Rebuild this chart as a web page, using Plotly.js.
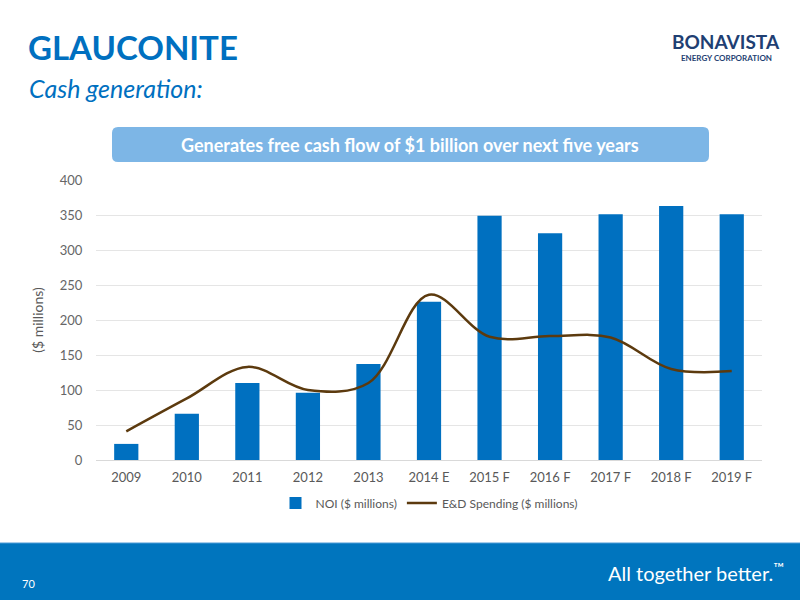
<!DOCTYPE html>
<html>
<head>
<meta charset="utf-8">
<script src="https://cdn.plot.ly/plotly-3.0.1.min.js"></script>
<style>html,body{margin:0;padding:0;background:#fff;}#chart{width:800px;height:600px;}</style>
</head>
<body>
<div id="chart"></div>
<script>
const categories = ["2009","2010","2011","2012","2013","2014 E","2015 F","2016 F","2017 F","2018 F","2019 F"];
const noi = [23, 66, 110, 96, 137, 226, 349, 324, 351, 363, 351];
const edSpending = [41, 88, 133, 100, 110, 236, 176, 177, 175, 130, 127];
const yTicks = [0, 50, 100, 150, 200, 250, 300, 350, 400];

const W = 800, H = 600;
const M = {l: 96, r: 38, t: 180, b: 140};
const PW = W - M.l - M.r, PH = H - M.t - M.b;
const px = x => (x - M.l) / PW;
const py = y => (H - M.b - y) / PH;

function roundRect(x0, y0, x1, y1, r) {
  const X0 = px(x0), X1 = px(x1), Y0 = py(y0), Y1 = py(y1);
  const rx = r / PW, ry = r / PH;
  return `M ${X0 + rx} ${Y0} L ${X1 - rx} ${Y0} Q ${X1} ${Y0} ${X1} ${Y0 - ry} L ${X1} ${Y1 + ry} Q ${X1} ${Y1} ${X1 - rx} ${Y1} L ${X0 + rx} ${Y1} Q ${X0} ${Y1} ${X0} ${Y1 + ry} L ${X0} ${Y0 - ry} Q ${X0} ${Y0} ${X0 + rx} ${Y0} Z`;
}

const traces = [
  {type: 'bar', name: 'NOI ($ millions)', x: categories, y: noi, marker: {color: '#0070C0'}, width: 0.4},
  {type: 'scatter', mode: 'lines', name: 'E&D Spending ($ millions)', x: categories, y: edSpending,
   line: {color: '#5C3A0E', width: 2.5, shape: 'spline', smoothing: 1}}
];

const font = 'Lato, "Open Sans", sans-serif';
const layout = {
  width: W, height: H,
  margin: M,
  paper_bgcolor: '#ffffff', plot_bgcolor: '#ffffff',
  font: {family: font, color: '#595959', size: 13},
  showlegend: true,
  legend: {orientation: 'h', x: 0.5, xanchor: 'center', y: py(503), yanchor: 'middle', font: {size: 12, color: '#595959'}, traceorder: 'normal'},
  xaxis: {type: 'category', tickfont: {size: 13, color: '#595959'}, showgrid: false, showline: true, linecolor: '#d9d9d9',
          ticks: 'outside', ticklen: 5, tickcolor: 'rgba(0,0,0,0)'},
  yaxis: {range: [0, 400], tickvals: yTicks, ticktext: yTicks.map(String), tickfont: {size: 13, color: '#666666'}, gridcolor: '#e5e5e5', zeroline: false, showline: false,
          title: {text: '($ millions)', font: {size: 14, color: '#595959'}, standoff: 12}, ticks: 'outside', ticklen: 10, tickcolor: 'rgba(0,0,0,0)'},
  shapes: [
    {type: 'path', xref: 'paper', yref: 'paper', path: roundRect(112, 127, 709, 162, 6), fillcolor: '#7DB6E6', line: {width: 0}, layer: 'above'},
    {type: 'rect', xref: 'paper', yref: 'paper', x0: px(0), x1: px(800), y0: py(543), y1: py(600), fillcolor: '#0075BE', line: {width: 0}},
    {type: 'line', xref: 'paper', yref: 'paper', x0: px(0), x1: px(800), y0: py(543), y1: py(543), line: {color: '#4C9BD6', width: 1}}
  ],
  annotations: [
    {xref: 'paper', yref: 'paper', x: px(26), y: py(47), xanchor: 'left', yanchor: 'middle', showarrow: false,
     text: '<b>GLAUCONITE</b>', font: {family: font, size: 33, color: '#0070C0'}},
    {xref: 'paper', yref: 'paper', x: px(27), y: py(88), xanchor: 'left', yanchor: 'middle', showarrow: false,
     text: '<i>Cash generation:</i>', font: {family: font, size: 25, color: '#0070C0'}},
    {xref: 'paper', yref: 'paper', x: px(410), y: py(145), xanchor: 'center', yanchor: 'middle', showarrow: false,
     text: '<b>Generates free cash flow of $1 billion over next five years</b>', font: {family: font, size: 18, color: '#ffffff'}},
    {xref: 'paper', yref: 'paper', x: px(726), y: py(41), xanchor: 'center', yanchor: 'middle', showarrow: false,
     text: '<b>BONAVISTA</b>', font: {family: font, size: 19, color: '#1F3F73'}},
    {xref: 'paper', yref: 'paper', x: px(726), y: py(58), xanchor: 'center', yanchor: 'middle', showarrow: false,
     text: '<b>ENERGY CORPORATION</b>', font: {family: font, size: 8, color: '#1F3F73'}},
    {xref: 'paper', yref: 'paper', x: px(786), y: py(572), xanchor: 'right', yanchor: 'middle', showarrow: false,
     text: 'All together better.<sup>™</sup>', font: {family: font, size: 20, color: '#ffffff'}},
    {xref: 'paper', yref: 'paper', x: px(20), y: py(583), xanchor: 'left', yanchor: 'middle', showarrow: false,
     text: '70', font: {family: font, size: 11, color: '#ffffff'}}
  ]
};

Plotly.newPlot('chart', traces, layout, {staticPlot: true, displayModeBar: false});
</script>
</body>
</html>
